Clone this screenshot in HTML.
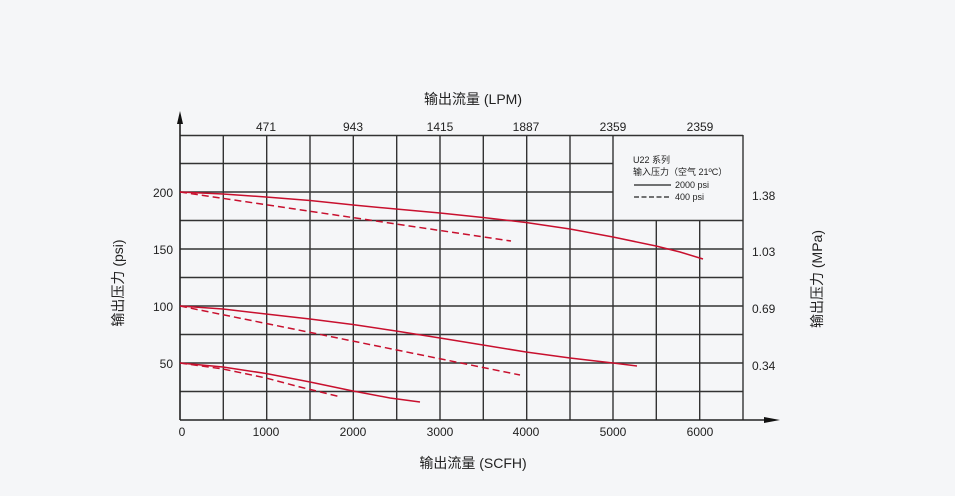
<!DOCTYPE html>
<html><head><meta charset="utf-8"><style>
html,body{margin:0;padding:0;background:#f5f6f8;}
svg{display:block;}
text{font-family:"Liberation Sans","Noto Sans CJK SC",sans-serif;fill:#222;}
</style></head><body>
<svg width="955" height="496" viewBox="0 0 955 496" xmlns="http://www.w3.org/2000/svg">
<rect width="955" height="496" fill="#f5f6f8"/>
<g stroke="#333" stroke-width="1.4" fill="none">
<line x1="180" y1="135.5" x2="743" y2="135.5"/>
<line x1="743" y1="135" x2="743" y2="420"/>
<line x1="180" y1="163.5" x2="613" y2="163.5"/>
<line x1="180" y1="192" x2="613" y2="192"/>
<line x1="180" y1="220.5" x2="743" y2="220.5"/>
<line x1="180" y1="249" x2="743" y2="249"/>
<line x1="180" y1="277.5" x2="743" y2="277.5"/>
<line x1="180" y1="306" x2="743" y2="306"/>
<line x1="180" y1="334.5" x2="743" y2="334.5"/>
<line x1="180" y1="363" x2="743" y2="363"/>
<line x1="180" y1="391.5" x2="743" y2="391.5"/>
<line x1="223.3" y1="135" x2="223.3" y2="420"/>
<line x1="266.7" y1="135" x2="266.7" y2="420"/>
<line x1="310" y1="135" x2="310" y2="420"/>
<line x1="353.3" y1="135" x2="353.3" y2="420"/>
<line x1="396.7" y1="135" x2="396.7" y2="420"/>
<line x1="440" y1="135" x2="440" y2="420"/>
<line x1="483.3" y1="135" x2="483.3" y2="420"/>
<line x1="526.7" y1="135" x2="526.7" y2="420"/>
<line x1="570" y1="135" x2="570" y2="420"/>
<line x1="613" y1="135" x2="613" y2="420"/>
<line x1="656.3" y1="220" x2="656.3" y2="420"/>
<line x1="699.7" y1="220" x2="699.7" y2="420"/>
</g>
<g stroke="#222" stroke-width="1.6">
<line x1="180" y1="420" x2="180" y2="120"/>
<line x1="180" y1="420" x2="768" y2="420"/>
</g>
<polygon points="180,111 177,124 183,124" fill="#111"/>
<polygon points="780,420 764,417 764,423" fill="#111"/>
<g stroke="#c8102e" stroke-width="1.5" fill="none" stroke-linejoin="round">
<polyline points="180,192 223,194 266,197 310,200.5 353,205 396,209 440,213 483,217.5 526,222.5 570,229 613,237 656,246 680,252 703,259"/>
<path d="M180,192 L511,241" stroke-dasharray="7,4"/>
<polyline points="180,306 223,309 266,314 310,319 353,324.5 396,331 440,338 483,345 526,352 570,358 613,363 637,366"/>
<path d="M180,306 L520,375" stroke-dasharray="7,4"/>
<polyline points="180,363 223,367 266,373.5 310,382 353,391 390,398 420,402"/>
<polyline points="180,363 223,369 266,378 300,387 341,397" stroke-dasharray="7,4"/>
</g>
<g font-size="12" text-anchor="middle">
<text x="266" y="131">471</text><text x="353" y="131">943</text><text x="440" y="131">1415</text>
<text x="526" y="131">1887</text><text x="613" y="131">2359</text><text x="700" y="131">2359</text>
<text x="182" y="436">0</text><text x="266" y="436">1000</text><text x="353" y="436">2000</text>
<text x="440" y="436">3000</text><text x="526" y="436">4000</text><text x="613" y="436">5000</text><text x="700" y="436">6000</text>
</g>
<g font-size="12" text-anchor="end">
<text x="173" y="197">200</text><text x="173" y="254">150</text><text x="173" y="311">100</text><text x="173" y="368">50</text>
</g>
<g font-size="12">
<text x="752" y="200">1.38</text><text x="752" y="256">1.03</text><text x="752" y="313">0.69</text><text x="752" y="370">0.34</text>
</g>
<text x="473" y="104" font-size="14" text-anchor="middle">输出流量 (LPM)</text>
<text x="473" y="468" font-size="14" text-anchor="middle">输出流量 (SCFH)</text>
<text transform="translate(123,283) rotate(-90)" font-size="14" text-anchor="middle">输出压力 (psi)</text>
<text transform="translate(822,279) rotate(-90)" font-size="14" text-anchor="middle">输出压力 (MPa)</text>
<g font-size="9">
<text x="633" y="163">U22 系列</text>
<text x="633" y="175">输入压力（空气 21ºC）</text>
<text x="675" y="188">2000 psi</text>
<text x="675" y="200">400 psi</text>
</g>
<line x1="634" y1="185" x2="671" y2="185" stroke="#222" stroke-width="1.2"/>
<line x1="634" y1="197" x2="671" y2="197" stroke="#222" stroke-width="1.2" stroke-dasharray="5,2.5"/>
</svg>
</body></html>
